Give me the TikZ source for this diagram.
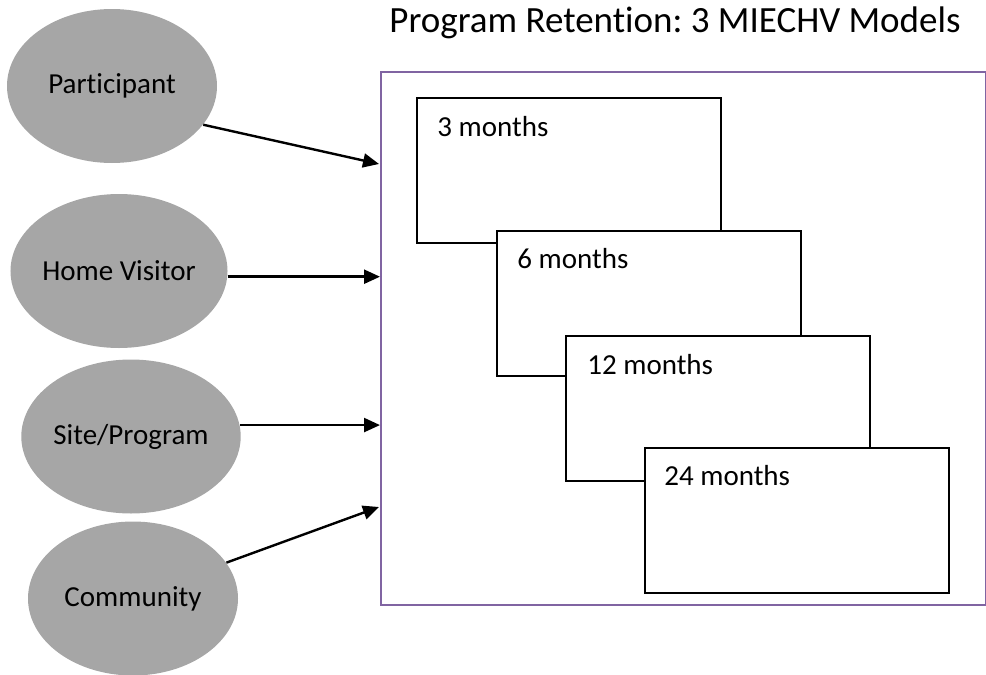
\documentclass[tikz,border=0pt]{standalone}
\usepackage{fontspec}
\setmainfont{Carlito}[RawFeature={-liga;-clig;-dlig;-calt}]
\usetikzlibrary{arrows.meta, positioning, shapes.geometric}
\definecolor{frame}{RGB}{128,100,162}
\definecolor{bubble}{RGB}{166,166,166}
\frenchspacing

\begin{document}
\begin{tikzpicture}[x=0.5pt, y=-0.5pt, font=\fontsize{14.5}{17}\selectfont, factor/.style={ellipse, fill=bubble, inner sep=0pt, minimum width=105pt, minimum height=77pt}, period/.style={rectangle, draw, line width=1pt, fill=white, minimum width=152pt, minimum height=72.5pt, anchor=north west}, label/.style={anchor=base west, inner sep=0pt}, arrow/.style={-{Triangle[length=8pt, width=7pt]}, line width=1.2pt}]
\useasboundingbox (0,0) rectangle (986,675);
\node[anchor=base, font=\fontsize{18.5}{22}\selectfont] (title) at (675,32) {Program Retention: 3 MIECHV Models};
\node[rectangle, draw=frame, line width=1pt, minimum width=302.5pt, minimum height=266.5pt, anchor=north west] (models) at (380,71) {};
\node[period] (m3) at (416,97) {};
\node[label] (t3) at ([shift={(21,39)}]m3.north west) {3 months};
\node[period] (m6) at (496,230) {};
\node[label] (t6) at ([shift={(21,38)}]m6.north west) {6 months};
\node[period] (m12) at (565,335) {};
\node[label] (t12) at ([shift={(22,39)}]m12.north west) {12 months};
\node[period] (m24) at (644,447) {};
\node[label] (t24) at ([shift={(20,38)}]m24.north west) {24 months};
\node[factor] (part) at (112,86) {Participant};
\node[factor] (home) at (119,271) {Home Visitor};
\node[factor] (site) at (131,436.5) {Site/Program};
\node[factor] (comm) at (133,598.5) {Community};
\coordinate (in1) at (379,164);
\coordinate (in4) at (379,507);
\draw[arrow] (part.-23) -- (in1);
\draw[arrow] (home.-3) -- (home.-3 -| models.west);
\draw[arrow] (site.6) -- (site.6 -| models.west);
\draw[arrow] (comm.21) -- (in4);
\end{tikzpicture}
\end{document}
